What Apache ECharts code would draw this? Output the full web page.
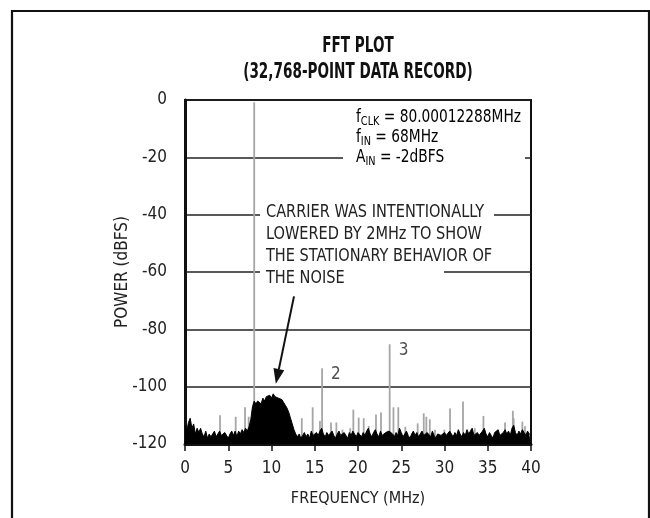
<!DOCTYPE html>
<html><head><meta charset="utf-8">
<script src="https://cdn.jsdelivr.net/npm/echarts@6/dist/echarts.min.js"></script>
<style>html,body{margin:0;padding:0;background:#fff}#c{width:650px;height:518px}</style>
</head><body><div id="c"></div><script>
const FONT = "'Liberation Sans Narrow','DejaVu Sans Condensed',sans-serif";

// ---- data ----
const xTicks = [0, 5, 10, 15, 20, 25, 30, 35, 40];
const yTicks = [-120, -100, -80, -60, -40, -20, 0];

const noiseFreq = [
 0,0.2,0.4,0.6,0.8,1,1.2,1.4,1.6,1.8,
 2,2.2,2.4,2.6,2.8,3,3.2,3.4,3.6,3.8,
 4,4.2,4.4,4.6,4.8,5,5.2,5.4,5.6,5.8,
 6,6.2,6.4,6.6,6.8,7,7.2,7.4,7.6,7.8,
 8,8.2,8.4,8.6,8.8,9,9.2,9.4,9.6,9.8,
 10,10.2,10.4,10.6,10.8,11,11.2,11.4,11.6,11.8,
 12,12.2,12.4,12.6,12.8,13,13.2,13.4,13.6,13.8,
 14,14.2,14.4,14.6,14.8,15,15.2,15.4,15.6,15.8,
 16,16.2,16.4,16.6,16.8,17,17.2,17.4,17.6,17.8,
 18,18.2,18.4,18.6,18.8,19,19.2,19.4,19.6,19.8,
 20,20.2,20.4,20.6,20.8,21,21.2,21.4,21.6,21.8,
 22,22.2,22.4,22.6,22.8,23,23.2,23.4,23.6,23.8,
 24,24.2,24.4,24.6,24.8,25,25.2,25.4,25.6,25.8,
 26,26.2,26.4,26.6,26.8,27,27.2,27.4,27.6,27.8,
 28,28.2,28.4,28.6,28.8,29,29.2,29.4,29.6,29.8,
 30,30.2,30.4,30.6,30.8,31,31.2,31.4,31.6,31.8,
 32,32.2,32.4,32.6,32.8,33,33.2,33.4,33.6,33.8,
 34,34.2,34.4,34.6,34.8,35,35.2,35.4,35.6,35.8,
 36,36.2,36.4,36.6,36.8,37,37.2,37.4,37.6,37.8,
 38,38.2,38.4,38.6,38.8,39,39.2,39.4,39.6,39.8,
 40
];
const noisePower = [
 -113.5,-115.5,-112.5,-111,-114.5,-113,-116.5,-114.5,-116,-114.5,
 -116.5,-117.5,-115.5,-118,-116.5,-117.5,-116.5,-115.5,-117.5,-116.5,
 -115.5,-117,-117.5,-116,-116.5,-118,-116.5,-115.5,-117,-115.5,
 -117.5,-115.5,-116.5,-115,-116,-114.5,-115.5,-114,-111.5,-107,
 -105,-106,-105,-104.5,-106,-104,-105,-103.5,-104,-103,
 -104,-102.5,-103.5,-103,-104,-103.5,-104.5,-105.5,-106.5,-107.5,
 -109,-111,-113,-115,-116.5,-117.5,-116.5,-118,-117,-116,
 -117.5,-116.5,-118,-115.5,-117,-117.5,-116,-117,-115.5,-114.5,
 -116.5,-117.5,-116,-117,-117.5,-115.5,-117,-118,-116.5,-115.5,
 -117,-117.5,-116,-116.5,-118,-116,-117,-115.5,-116.5,-117.5,
 -116,-116.5,-117.5,-116,-117,-115.5,-114.5,-116.5,-117.5,-116,
 -115,-116.5,-117.5,-115.5,-117,-117.5,-116,-116.5,-115.5,-115,
 -116.5,-117.5,-116,-117,-114.5,-116,-117.5,-116.5,-115.5,-117,
 -118,-116.5,-115.5,-117,-116,-117.5,-116.5,-115.5,-117,-117.5,
 -116,-116.5,-117.5,-115.5,-117,-118,-116.5,-116,-117,-117.5,
 -116,-117,-117.5,-115.5,-116.5,-117.5,-116,-117,-115,-116.5,
 -117.5,-116,-117,-115,-116.5,-115.5,-114.5,-117,-117.5,-116,
 -117,-117.5,-115.5,-114.5,-116.5,-117.5,-116,-117,-118,-116,
 -116.5,-115,-117,-117.5,-116,-115,-116.5,-115.5,-117,-114.5,
 -113.5,-116,-117,-115.5,-116.5,-115,-116,-117,-115.5,-116.5,
 -117
];

// carrier, harmonics and spurs (gray vertical lines)
const spurFreq = [8.0, 15.85, 23.66, 4.05, 5.86, 6.94, 7.36, 13.5, 14.76, 15.6,
 16.88, 17.5, 18.2, 19.1, 19.46, 20.08, 20.66, 21.24, 22.08, 22.66,
 23.36, 24.1, 24.66, 25.47, 26.9, 27.6, 27.9, 28.3, 28.9, 29.98,
 30.64, 31.68, 32.14, 33.1, 33.5, 34.5, 36.1, 37.0, 37.9, 38.0, 39.0, 39.3];
const spurPower = [-0.8, -93.6, -85.2, -110, -110.5, -107.2, -110.5, -111, -107.2, -112,
 -112.5, -112.5, -115, -114.5, -108, -110.8, -111, -113.7, -109.7, -109,
 -116, -107.2, -107.2, -114, -112.8, -109.3, -110.5, -111.4, -115, -115,
 -107.6, -115.7, -105.2, -114.9, -114.5, -110.2, -115.5, -112.5, -108.4, -111, -112.2, -113.8];

const harmonicFreq = [15.85, 23.66];
const harmonicPower = [-93.6, -85.2];
const harmonicNames = ['2', '3'];

const arrowFrom = [12.6, -68.5];
const arrowTo = [10.5, -99.0];

// ---- chart ----
const chart = echarts.init(document.getElementById('c'), null, {renderer: 'canvas'});

const noiseData = noiseFreq.map((f, i) => [f, noisePower[i]]);
const spurData = spurFreq.map((f, i) => [f, spurPower[i]]);
const harmData = harmonicFreq.map((f, i) => ({name: harmonicNames[i], value: [f, harmonicPower[i]]}));

const option = {
  animation: false,
  backgroundColor: '#fff',
  textStyle: {fontFamily: FONT},
  grid: {left: 185, right: 119, top: 100, bottom: 74, show: true, borderColor: '#111', borderWidth: 2, backgroundColor: 'transparent'},
  xAxis: {
    type: 'value', min: 0, max: 40, interval: 5,
    name: 'FREQUENCY (MHz)', nameLocation: 'middle', nameGap: 47,
    nameTextStyle: {fontFamily: FONT, fontSize: 16, color: '#222'},
    axisLine: {show: true, onZero: false, lineStyle: {color: '#111', width: 3}},
    axisTick: {show: true, length: 7, lineStyle: {color: '#111', width: 1.5}},
    axisLabel: {fontFamily: FONT, fontSize: 17, color: '#222', margin: 16},
    splitLine: {show: false}
  },
  yAxis: {
    type: 'value', min: -120, max: 0, interval: 20,
    name: 'POWER (dBFS)', nameLocation: 'middle', nameGap: 54, nameRotate: 90,
    nameMoveOverlap: false,
    nameTextStyle: {fontFamily: FONT, fontSize: 17, color: '#222'},
    axisLine: {show: true, onZero: false, lineStyle: {color: '#111', width: 3}},
    axisTick: {show: false},
    axisLabel: {fontFamily: FONT, fontSize: 17, color: '#222', margin: 18},
    splitLine: {show: true, lineStyle: {color: '#222', width: 1.5}}
  },
  series: [
    {
      type: 'custom', name: 'spurs', data: spurData, z: 2,
      renderItem: function (params, api) {
        const top = api.coord([api.value(0), api.value(1)]);
        const bot = api.coord([api.value(0), -120]);
        return {type: 'line', shape: {x1: top[0], y1: top[1], x2: bot[0], y2: bot[1]},
          style: {stroke: '#a6a6a6', lineWidth: 1.8}};
      }
    },
    {
      type: 'line', name: 'noise', data: noiseData, z: 3,
      symbol: 'none', smooth: false,
      lineStyle: {color: '#000', width: 1},
      areaStyle: {color: '#000', opacity: 1, origin: 'start'}
    },
    {
      type: 'scatter', name: 'harmonics', data: harmData, z: 4,
      symbolSize: 0,
      label: {show: true, formatter: '{b}', position: 'right', distance: 9, offset: [0, 6],
        fontFamily: FONT, fontSize: 17, color: '#222'}
    }
  ]
};
chart.setOption(option);

// annotations
const p1 = chart.convertToPixel({gridIndex: 0}, arrowFrom);
const p2 = chart.convertToPixel({gridIndex: 0}, arrowTo);
const dx = p2[0] - p1[0], dy = p2[1] - p1[1];
const L = Math.sqrt(dx * dx + dy * dy);
const ux = dx / L, uy = dy / L;
const headLen = 15, headW = 5.5;
const bx = p2[0] - ux * headLen, by = p2[1] - uy * headLen;

const sub = {fontFamily: FONT, fontSize: 12, color: '#222', padding: [7, 0, 0, 0]};
const main = {fontFamily: FONT, fontSize: 17, color: '#222'};

chart.setOption({
  graphic: [
    {type: 'rect', z: 50, shape: {x: 12, y: 11, width: 637, height: 530},
      style: {fill: 'none', stroke: '#111', lineWidth: 2.2}},
    // title (condensed look via horizontal scale)
    {type: 'text', z: 20, x: 358, y: 47, scaleX: 0.72, style: {
      text: 'FFT PLOT', font: 'bold 21px ' + FONT, fill: '#111', align: 'center', verticalAlign: 'middle'}},
    {type: 'text', z: 20, x: 358, y: 73, scaleX: 0.72, style: {
      text: '(32,768-POINT DATA RECORD)', font: 'bold 21px ' + FONT, fill: '#111', align: 'center', verticalAlign: 'middle'}},
    // white masks behind annotation text
    {type: 'rect', z: 10, shape: {x: 343, y: 106, width: 182, height: 62}, style: {fill: '#fff'}},
    {type: 'rect', z: 10, shape: {x: 260, y: 202, width: 234, height: 66}, style: {fill: '#fff'}},
    {type: 'rect', z: 10, shape: {x: 260, y: 266, width: 184, height: 24}, style: {fill: '#fff'}},
    {type: 'text', z: 20, x: 356, y: 118, scaleX: 0.9, style: {
      text: '{m|f}{s|CLK}{m| = 80.00012288MHz}', verticalAlign: 'middle',
      rich: {m: main, s: sub}}},
    {type: 'text', z: 20, x: 356, y: 138, scaleX: 0.9, style: {
      text: '{m|f}{s|IN}{m| = 68MHz}', verticalAlign: 'middle',
      rich: {m: main, s: sub}}},
    {type: 'text', z: 20, x: 356, y: 158, scaleX: 0.9, style: {
      text: '{m|A}{s|IN}{m| = -2dBFS}', verticalAlign: 'middle',
      rich: {m: main, s: sub}}},
    {type: 'text', z: 20, x: 266, y: 202, scaleX: 0.95, style: {
      text: 'CARRIER WAS INTENTIONALLY\nLOWERED BY 2MHz TO SHOW\nTHE STATIONARY BEHAVIOR OF\nTHE NOISE',
      font: '17px ' + FONT, fill: '#222', lineHeight: 22, verticalAlign: 'top'}},
    {type: 'line', z: 20, shape: {x1: p1[0], y1: p1[1], x2: bx, y2: by},
      style: {stroke: '#111', lineWidth: 2}},
    {type: 'polygon', z: 20, shape: {points: [
      [p2[0], p2[1]],
      [bx - uy * headW, by + ux * headW],
      [bx + uy * headW, by - ux * headW]]},
      style: {fill: '#111'}}
  ]
});
</script></body></html>
